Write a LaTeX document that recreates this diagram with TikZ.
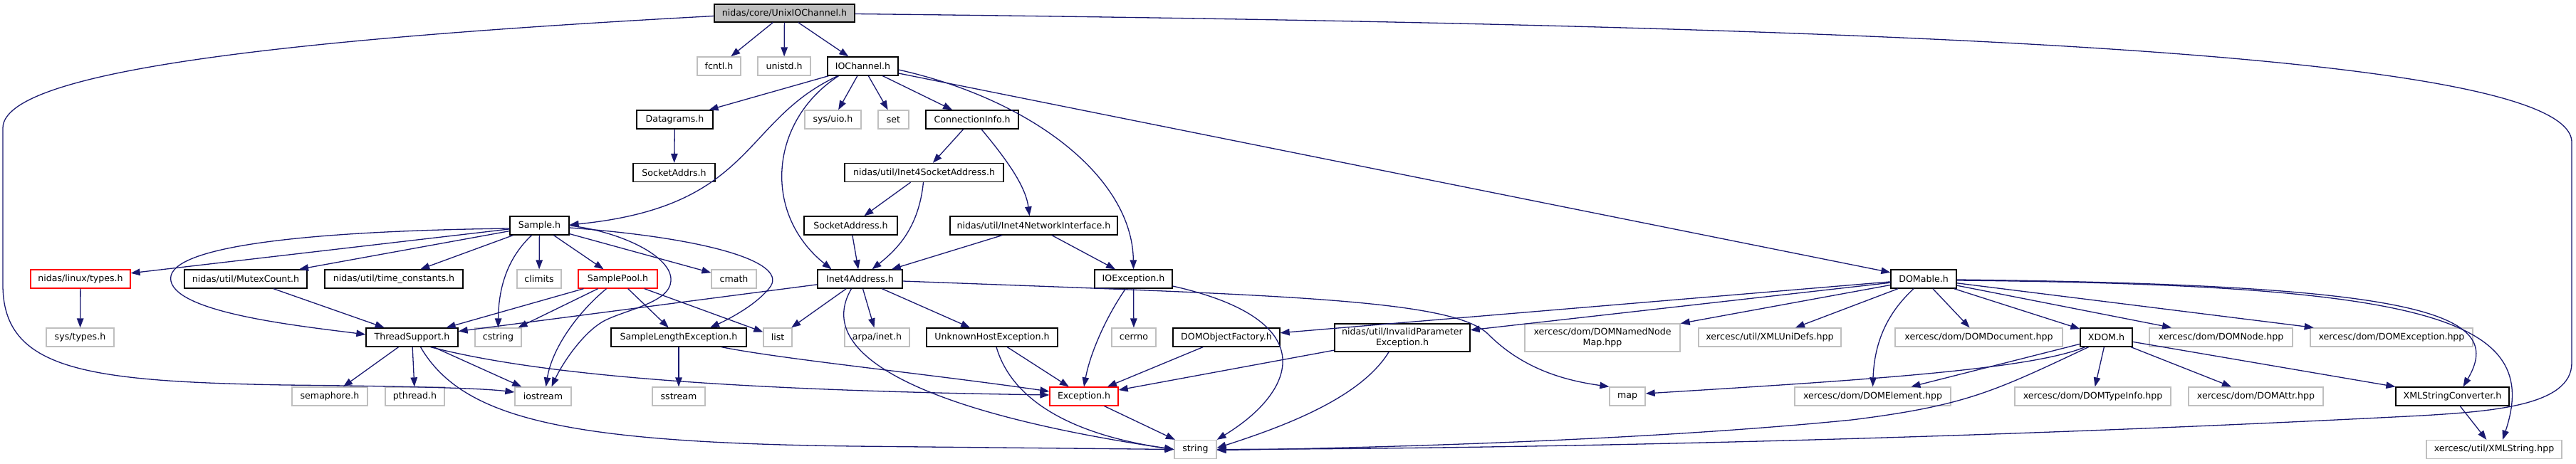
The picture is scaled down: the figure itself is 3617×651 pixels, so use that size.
\documentclass[tikz,border=0pt]{standalone}
\usepackage{fontspec}
\setmainfont{DejaVu Sans}
\usetikzlibrary{arrows.meta}
\definecolor{mblue}{RGB}{25,25,112}
\definecolor{gb}{RGB}{191,191,191}
\begin{document}
\begin{tikzpicture}[x=1pt,y=-1pt,
  nd/.style={rectangle, minimum height=26pt, inner sep=0pt, line width=1.3pt, font={\fontsize{12.6}{15}\selectfont}, text=black, align=center},
  doc/.style={nd, draw=black, fill=white},
  ext/.style={nd, draw=gb, fill=white},
  trunc/.style={nd, draw=red, fill=white},
  dep/.style={draw=mblue, line width=1.3pt, -{Triangle[length=13pt,width=9.5pt]}}]
\useasboundingbox (0,0) rectangle (3617,651);
% row 0
\node[doc, fill=gb, minimum width=197pt, minimum height=25pt] (uio) at (1101.5,18.5) {nidas/core/UnixIOChannel.h};
% row 1
\node[ext, minimum width=61pt] (fcntl) at (1009.5,93) {fcntl.h};
\node[ext, minimum width=74pt] (unistd) at (1101,93) {unistd.h};
\node[doc, minimum width=99pt] (ioch) at (1211.5,93) {IOChannel.h};
% row 2
\node[doc, minimum width=107pt] (datagrams) at (947.5,168) {Datagrams.h};
\node[ext, minimum width=79pt] (sysuio) at (1169.5,168) {sys/uio.h};
\node[ext, minimum width=43pt] (set) at (1254.5,168) {set};
\node[doc, minimum width=130pt] (conninfo) at (1365,168) {ConnectionInfo.h};
% row 3
\node[doc, minimum width=115pt] (socketaddrs) at (946.5,242.5) {SocketAddrs.h};
\node[doc, minimum width=223pt] (i4sa) at (1297.5,242.5) {nidas/util/Inet4SocketAddress.h};
% row 4
\node[doc, minimum width=83pt] (sample) at (757.5,317) {Sample.h};
\node[doc, minimum width=131pt] (sockaddr) at (1194.5,317) {SocketAddress.h};
\node[doc, minimum width=235pt] (i4ni) at (1451.5,317) {nidas/util/Inet4NetworkInterface.h};
% row 5
\node[trunc, minimum width=140pt] (linuxtypes) at (113,392) {nidas/linux/types.h};
\node[doc, minimum width=172pt] (mutex) at (345,392) {nidas/util/MutexCount.h};
\node[doc, minimum width=194pt] (timec) at (553,392) {nidas/util/time\_constants.h};
\node[ext, minimum width=62pt] (climits) at (757,392) {climits};
\node[trunc, minimum width=111pt] (samplepool) at (867.5,392) {SamplePool.h};
\node[ext, minimum width=63pt] (cmath) at (1030.5,392) {cmath};
\node[doc, minimum width=119pt] (i4a) at (1207.5,392) {Inet4Address.h};
\node[doc, minimum width=109pt] (ioexc) at (1591.5,392) {IOException.h};
\node[doc, minimum width=92pt] (dom) at (2701,392) {DOMable.h};
% row 6
\node[ext, minimum width=95pt] (systypes) at (112.5,474) {sys/types.h};
\node[doc, minimum width=129pt] (threadsup) at (578.5,474) {ThreadSupport.h};
\node[ext, minimum width=65pt] (cstring) at (699.5,474) {cstring};
\node[doc, minimum width=190pt] (slexc) at (953,474) {SampleLengthException.h};
\node[ext, minimum width=40pt] (list) at (1092,474) {list};
\node[ext, minimum width=91pt] (arpainet) at (1231.5,474) {arpa/inet.h};
\node[doc, minimum width=184pt] (unknownhost) at (1393,474) {UnknownHostException.h};
\node[ext, minimum width=62pt] (cerrno) at (1592,474) {cerrno};
\node[doc, minimum width=150pt] (domobjfac) at (1722,474) {DOMObjectFactory.h};
\node[doc, minimum width=190pt, minimum height=39pt] (invparam) at (1969,474.5) {nidas/util/InvalidParameter\\Exception.h};
\node[ext, minimum width=218pt, minimum height=39pt] (namednodemap) at (2250,474.5) {xercesc/dom/DOMNamedNode\\Map.hpp};
\node[ext, minimum width=200pt] (xmlunidefs) at (2485,474) {xercesc/util/XMLUniDefs.hpp};
\node[ext, minimum width=235pt] (domdocument) at (2778.5,474) {xercesc/dom/DOMDocument.hpp};
\node[doc, minimum width=73pt] (xdom) at (2957.5,474) {XDOM.h};
\node[ext, minimum width=201pt] (domnode) at (3118.5,474) {xercesc/dom/DOMNode.hpp};
\node[ext, minimum width=228pt] (domexception) at (3358,474) {xercesc/dom/DOMException.hpp};
% row 7
\node[ext, minimum width=106pt] (semaphore) at (463,557) {semaphore.h};
\node[ext, minimum width=83pt] (pthread) at (582.5,557) {pthread.h};
\node[ext, minimum width=79pt] (iostream) at (762.5,557) {iostream};
\node[ext, minimum width=74pt] (sstream) at (953,557) {sstream};
\node[trunc, minimum width=96pt] (exception) at (1522,557) {Exception.h};
\node[ext, minimum width=50pt] (map) at (2285,557) {map};
\node[ext, minimum width=219pt] (domelement) at (2629.5,557) {xercesc/dom/DOMElement.hpp};
\node[ext, minimum width=219pt] (domtypeinfo) at (2938.5,557) {xercesc/dom/DOMTypeInfo.hpp};
\node[ext, minimum width=189pt] (domattr) at (3167.5,557) {xercesc/dom/DOMAttr.hpp};
\node[doc, minimum width=159pt] (xmlstrconv) at (3443.5,557) {XMLStringConverter.h};
% row 8
\node[ext, minimum width=59pt] (string) at (1678.5,631.5) {string};
\node[ext, minimum width=190pt] (xmlstring) at (3502,631.5) {xercesc/util/XMLString.hpp};

% straight edges
\foreach \a/\b in {uio/fcntl, uio/unistd, uio/ioch,
  ioch/datagrams, ioch/sysuio, ioch/set, ioch/conninfo, ioch/dom,
  datagrams/socketaddrs, conninfo/i4sa, i4sa/sockaddr, sockaddr/i4a,
  i4ni/i4a, i4ni/ioexc,
  sample/linuxtypes, sample/mutex, sample/timec, sample/climits, sample/samplepool, sample/cmath,
  linuxtypes/systypes, mutex/threadsup,
  samplepool/threadsup, samplepool/cstring, samplepool/slexc, samplepool/list,
  i4a/threadsup, i4a/list, i4a/arpainet, i4a/unknownhost,
  threadsup/semaphore, threadsup/pthread, threadsup/iostream,
  slexc/sstream, unknownhost/exception, ioexc/cerrno, exception/string,
  domobjfac/exception, invparam/exception,
  dom/domobjfac, dom/invparam, dom/namednodemap, dom/xmlunidefs, dom/domdocument, dom/xdom, dom/domnode, dom/domexception,
  xdom/domelement, xdom/domtypeinfo, xdom/domattr, xdom/xmlstrconv,
  xmlstrconv/xmlstring}
  \draw[dep] (\a) -- (\b);

% curved edges
\draw[dep] ([yshift=-4pt]uio.west) .. controls (400,55) and (4,100) .. (4,180) -- (4,400)
  .. controls (4,520) and (120,536) .. (400,541) .. controls (600,543) and (680,546) .. ([yshift=6pt]iostream.west);
\draw[dep] ([yshift=-1pt]uio.east) .. controls (2600,35) and (3611,70) .. (3611,200) -- (3611,510)
  .. controls (3611,570) and (3500,578) .. (3400,584) .. controls (2800,615) and (2200,630) .. (string.east);
\draw[dep] ([xshift=-35pt]ioch.south) .. controls (1040,170) and (1060,290) .. ([yshift=1pt]sample.east);
\draw[dep] ([xshift=-34pt]ioch.south) .. controls (1080,170) and (1070,300) .. ([xshift=-40pt]i4a.north);
\draw[dep] ([yshift=-5pt]ioch.east) .. controls (1450,140) and (1590,250) .. (ioexc.north);
\draw[dep] ([xshift=13pt]conninfo.south) .. controls (1410,220) and (1440,260) .. ([xshift=-6pt]i4ni.north);
\draw[dep] ([xshift=-1pt]i4sa.south) .. controls (1290,320) and (1260,350) .. ([xshift=17pt]i4a.north);
\draw[dep] ([yshift=-4pt]sample.west) .. controls (400,325) and (230,350) .. (240,395)
  .. controls (250,440) and (420,458) .. ([yshift=4pt]threadsup.west);
\draw[dep] ([xshift=-11pt]sample.south) .. controls (715,360) and (700,400) .. (cstring.north);
\draw[dep] (sample.east) .. controls (870,325) and (945,360) .. (942,395)
  .. controls (940,425) and (880,435) .. (850,450) .. controls (820,465) and (790,510) .. ([xshift=12pt]iostream.north);
\draw[dep] ([yshift=-3pt]sample.east) .. controls (1000,335) and (1110,370) .. (1080,405)
  .. controls (1060,430) and (1020,450) .. ([xshift=44pt]slexc.north);
\draw[dep] ([xshift=-16pt]samplepool.south) .. controls (810,440) and (775,490) .. ([xshift=4pt]iostream.north);
\draw[dep] ([xshift=-12pt]i4a.south) .. controls (1140,500) and (1300,580) .. (string.west);
\draw[dep] ([yshift=-3pt]i4a.east) .. controls (1800,415) and (2040,420) .. (2090,470)
  .. controls (2140,520) and (2200,535) .. (map.north west);
\draw[dep] ([xshift=6pt]unknownhost.south) .. controls (1420,560) and (1500,610) .. (string.west);
\draw[dep] ([xshift=-11pt]ioexc.south) .. controls (1550,450) and (1530,500) .. (exception.north);
\draw[dep] ([yshift=-10pt]ioexc.east) .. controls (1860,450) and (1820,550) .. (string.north east);
\draw[dep] ([xshift=-19pt]invparam.south) .. controls (1910,560) and (1800,600) .. ([yshift=2pt]string.east);
\draw[dep] ([xshift=60pt]slexc.south) .. controls (1100,505) and (1300,525) .. ([yshift=7pt]exception.west);
\draw[dep] ([xshift=26pt]threadsup.south) .. controls (750,525) and (1000,548) .. ([yshift=2pt]exception.west);
\draw[dep] ([xshift=12pt]threadsup.south) .. controls (650,590) and (800,622) .. (1200,627) -- (string.west);
\draw[dep] ([xshift=-14pt]dom.south) .. controls (2650,440) and (2632,480) .. (domelement.north);
\draw[dep] ([yshift=-1pt]dom.east) .. controls (3400,400) and (3520,440) .. ([xshift=15pt]xmlstrconv.north);
\draw[dep] ([yshift=-2pt]dom.east) .. controls (3420,400) and (3570,450) .. ([xshift=12pt]xmlstring.north);
\draw[dep] ([xshift=-30pt]xdom.south) .. controls (2850,520) and (2600,535) .. ([yshift=4pt]map.east);
\draw[dep] ([xshift=-25pt]xdom.south) .. controls (2800,550) and (2760,570) .. (2600,590)
  .. controls (2300,620) and (1900,630) .. ([yshift=-1pt]string.east);
\end{tikzpicture}
\end{document}
